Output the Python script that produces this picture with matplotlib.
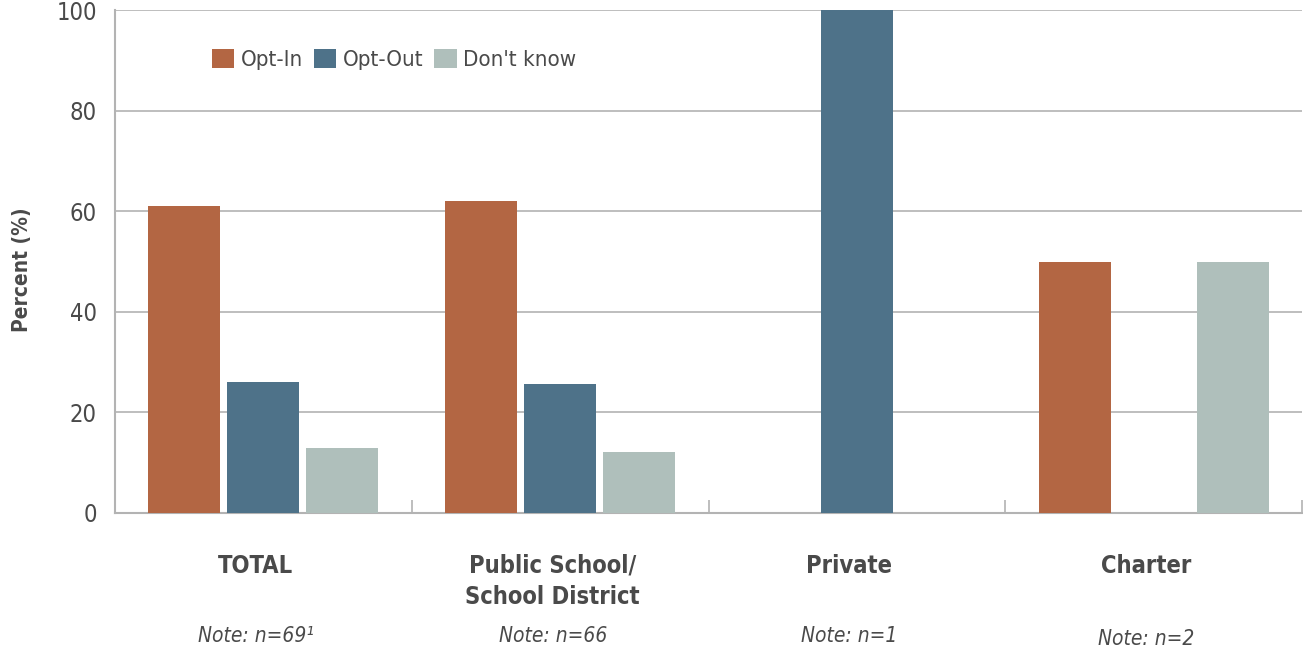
#!/usr/bin/env python3
"""Opt-in / opt-out grouped bar chart by school type."""

import matplotlib

matplotlib.use("Agg")
import matplotlib.pyplot as plt
import numpy as np

plt.rcParams["font.family"] = ["DejaVu Sans"]
plt.rcParams["font.stretch"] = "condensed"

categories = ["TOTAL", "Public School/\nSchool District", "Private", "Charter"]
notes = ["Note: n=69\u00b9", "Note: n=66", "Note: n=1", "Note: n=2"]
series = ["Opt-In", "Opt-Out", "Don't know"]
opt_in = [61, 62, 0, 50]
opt_out = [26, 25.6, 100, 0]
dont_know = [13, 12.1, 0, 50]
colors = ["#B36643", "#4E7289", "#AFBFBB"]

TEXT = "#4a4a4a"
GRID = "#b3b3b3"

fig = plt.figure(figsize=(13.03, 6.51), dpi=100)
ax = fig.add_axes([115 / 1303, 138 / 651, 1187 / 1303, 503 / 651])

x = np.arange(len(categories))
width = 0.243
step = 0.266
for i, (name, vals, col) in enumerate(zip(series, [opt_in, opt_out, dont_know], colors)):
    ax.bar(x + (i - 1) * step, vals, width=width, color=col, label=name, zorder=3)

ax.set_xlim(-0.5, len(categories) - 0.5)
ax.set_ylim(0, 100)
ax.set_yticks([0, 20, 40, 60, 80, 100])
ax.tick_params(axis="y", length=0, pad=13, labelsize=17, labelcolor=TEXT)
ax.yaxis.grid(True, color=GRID, linewidth=1.2, zorder=0)
ax.set_xticks([])
ax.set_xticks(np.arange(-0.5, len(categories)), minor=True)
ax.tick_params(axis="x", which="minor", direction="in", length=9.5, width=1.2, color=GRID)

for side in ["top", "right"]:
    ax.spines[side].set_visible(False)
for side in ["left", "bottom"]:
    ax.spines[side].set_color(GRID)
    ax.spines[side].set_linewidth(1.5)

ax.set_ylabel("Percent (%)", fontsize=15, fontweight="bold", color=TEXT)
ax.yaxis.set_label_coords(-83 / 1187, 0.484)

trans = ax.get_xaxis_transform()
for i, (cat, note) in enumerate(zip(categories, notes)):
    ax.text(i - 0.025, -0.081, cat, transform=trans, ha="center", va="top",
            fontsize=17, fontweight="bold", color=TEXT, linespacing=1.38)
    dy = -0.245 if i < 3 else -0.25
    ax.text(i - 0.025, dy, note, transform=trans, ha="center", va="center",
            fontsize=15, style="italic", color=TEXT)

ax.legend(loc="upper left", bbox_to_anchor=(0.0645, 0.963), ncol=3, frameon=False,
          fontsize=16, handlelength=1.0, handleheight=1.0, handletextpad=0.3,
          columnspacing=0.5, labelcolor=TEXT)

fig.savefig("out.png", dpi=100)
plt.close(fig)
